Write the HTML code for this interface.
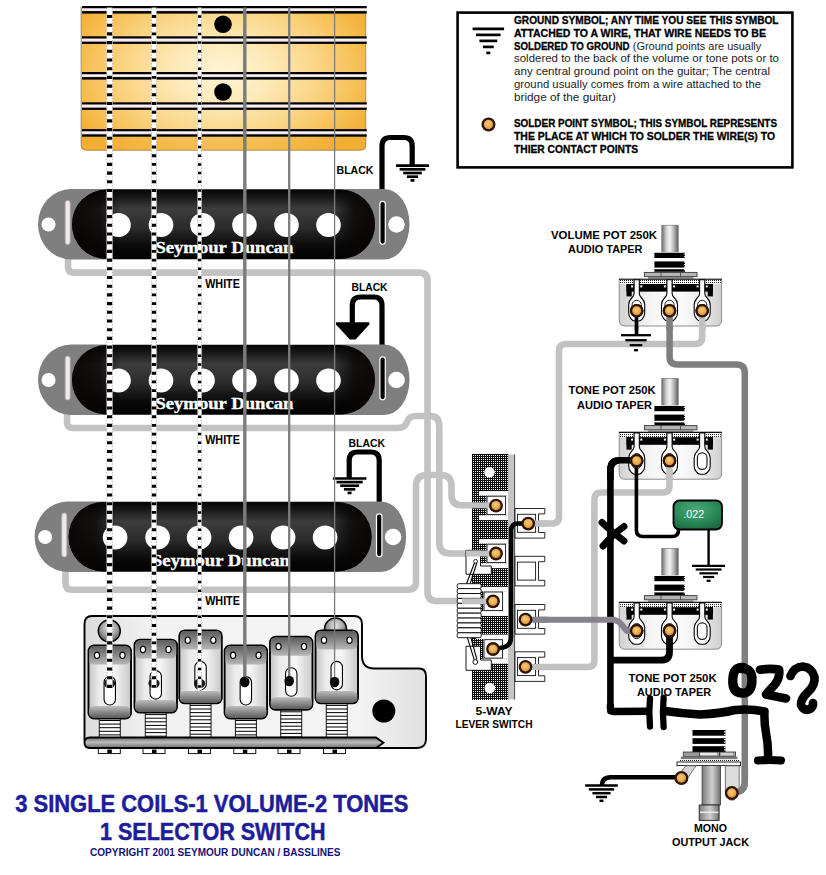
<!DOCTYPE html>
<html lang="en"><head><meta charset="utf-8"><title>3 Single Coils - 1 Volume - 2 Tones - 5-Way Switch Wiring Diagram</title>
<style>
html,body{margin:0;padding:0;background:#fff;}
body{width:826px;height:875px;overflow:hidden;font-family:"Liberation Sans",sans-serif;}
svg{display:block;}
</style></head><body>
<svg width="826" height="875" viewBox="0 0 826 875">
<defs>
<linearGradient id="gNeck" x1="0" y1="0" x2="1" y2="0">
 <stop offset="0" stop-color="#f2b23a"/><stop offset="0.12" stop-color="#f6c35a"/>
 <stop offset="0.35" stop-color="#fbe0a0"/><stop offset="0.52" stop-color="#fff0c8"/>
 <stop offset="0.72" stop-color="#fbd98c"/><stop offset="0.9" stop-color="#f5bd4e"/><stop offset="1" stop-color="#f0ae34"/>
</linearGradient>
<linearGradient id="gNeckV" x1="0" y1="0" x2="0" y2="1">
 <stop offset="0" stop-color="#f0a828" stop-opacity="0.25"/><stop offset="0.4" stop-color="#fff" stop-opacity="0"/>
 <stop offset="0.8" stop-color="#f0a828" stop-opacity="0.1"/><stop offset="1" stop-color="#e89c1c" stop-opacity="0.55"/>
</linearGradient>
<linearGradient id="gFret" x1="0" y1="0" x2="0" y2="1">
 <stop offset="0" stop-color="#000"/><stop offset="0.26" stop-color="#000"/><stop offset="0.3" stop-color="#a8a0a4"/><stop offset="0.4" stop-color="#f4eef0"/>
 <stop offset="0.5" stop-color="#fffafc"/><stop offset="0.6" stop-color="#e8e0e4"/><stop offset="0.69" stop-color="#989094"/><stop offset="0.73" stop-color="#000"/><stop offset="1" stop-color="#000"/>
</linearGradient>
<radialGradient id="gNeckR" gradientUnits="userSpaceOnUse" cx="0" cy="0" r="160" gradientTransform="translate(222,72) scale(1,0.66)">
 <stop offset="0" stop-color="#fff4d6"/><stop offset="0.3" stop-color="#fdeab8"/><stop offset="0.6" stop-color="#fad586"/>
 <stop offset="0.85" stop-color="#f6c055"/><stop offset="1" stop-color="#f3b139"/>
</radialGradient>
<linearGradient id="gCover" x1="0" y1="0" x2="0" y2="1">
 <stop offset="0" stop-color="#050505"/><stop offset="0.1" stop-color="#161616"/><stop offset="0.28" stop-color="#3d3d3d"/><stop offset="0.55" stop-color="#2b2b2b"/>
 <stop offset="0.8" stop-color="#0b0b0b"/><stop offset="1" stop-color="#000"/>
</linearGradient>
<linearGradient id="gCoverH" x1="0" y1="0" x2="1" y2="0">
 <stop offset="0" stop-color="#0a0404" stop-opacity="0.95"/><stop offset="0.09" stop-color="#0a0404" stop-opacity="0.75"/><stop offset="0.16" stop-color="#000" stop-opacity="0"/>
 <stop offset="0.86" stop-color="#000" stop-opacity="0"/><stop offset="0.93" stop-color="#0a0404" stop-opacity="0.8"/><stop offset="1" stop-color="#0a0404" stop-opacity="0.95"/>
</linearGradient>
<radialGradient id="gSolder" cx="0.45" cy="0.4" r="0.7">
 <stop offset="0" stop-color="#f6cd80"/><stop offset="0.6" stop-color="#eaa846"/><stop offset="1" stop-color="#c88226"/>
</radialGradient>
<linearGradient id="gShaft" x1="0" y1="0" x2="1" y2="0">
 <stop offset="0" stop-color="#6e6e6e"/><stop offset="0.3" stop-color="#d8d8d8"/><stop offset="0.5" stop-color="#f2f2f2"/>
 <stop offset="0.75" stop-color="#b0b0b0"/><stop offset="1" stop-color="#606060"/>
</linearGradient>
<linearGradient id="gSleeve" x1="0" y1="0" x2="1" y2="0">
 <stop offset="0" stop-color="#7a7a7a"/><stop offset="0.35" stop-color="#b4b4b4"/><stop offset="0.55" stop-color="#cfcfcf"/>
 <stop offset="0.8" stop-color="#9c9c9c"/><stop offset="1" stop-color="#6c6c6c"/>
</linearGradient>
<linearGradient id="gPotBody" x1="0" y1="0" x2="1" y2="0">
 <stop offset="0" stop-color="#d2d2d2"/><stop offset="0.3" stop-color="#f4f4f4"/><stop offset="0.55" stop-color="#ffffff"/>
 <stop offset="0.8" stop-color="#ececec"/><stop offset="1" stop-color="#cfcfcf"/>
</linearGradient>
<radialGradient id="gCap" cx="0.45" cy="0.3" r="0.85">
 <stop offset="0" stop-color="#4aa878"/><stop offset="0.45" stop-color="#2f8f5c"/><stop offset="1" stop-color="#16603a"/>
</radialGradient>
<linearGradient id="gSadTop" x1="0" y1="0" x2="0" y2="1">
 <stop offset="0" stop-color="#5c5c5c"/><stop offset="0.5" stop-color="#8a8a8a"/><stop offset="1" stop-color="#b8b8b8"/>
</linearGradient>
<linearGradient id="gSadBot" x1="0" y1="0" x2="0" y2="1">
 <stop offset="0" stop-color="#bdbdbd"/><stop offset="0.5" stop-color="#8c8c8c"/><stop offset="1" stop-color="#5a5a5a"/>
</linearGradient>
<linearGradient id="gSadMid" x1="0" y1="0" x2="1" y2="0">
 <stop offset="0" stop-color="#c4c4c4"/><stop offset="0.25" stop-color="#ececec"/><stop offset="0.6" stop-color="#f6f6f6"/><stop offset="1" stop-color="#c8c8c8"/>
</linearGradient>
<linearGradient id="gBar" x1="0" y1="0" x2="0" y2="1">
 <stop offset="0" stop-color="#6a6a6a"/><stop offset="0.45" stop-color="#bdbdbd"/><stop offset="1" stop-color="#6e6e6e"/>
</linearGradient>
<linearGradient id="gPlate" x1="0" y1="0" x2="1" y2="0">
 <stop offset="0" stop-color="#dcdcdc"/><stop offset="0.2" stop-color="#f2f2f2"/><stop offset="0.8" stop-color="#f4f4f4"/><stop offset="1" stop-color="#e0e0e0"/>
</linearGradient>
<radialGradient id="gScrew" cx="0.5" cy="0.35" r="0.7">
 <stop offset="0" stop-color="#e8e8e8"/><stop offset="0.55" stop-color="#9a9a9a"/><stop offset="1" stop-color="#4a4a4a"/>
</radialGradient>
<pattern id="pDots" width="2" height="2" patternUnits="userSpaceOnUse">
 <rect width="2" height="2" fill="#0c0c0c"/><rect x="1" y="1" width="1" height="1" fill="#f4f4f4"/>
</pattern>
<pattern id="pDotsL" width="2" height="2" patternUnits="userSpaceOnUse">
 <rect width="2" height="2" fill="#fff"/><rect x="0" y="0" width="1" height="1" fill="#222"/>
</pattern>
<filter id="soft" x="-5%" y="-5%" width="110%" height="110%"><feGaussianBlur stdDeviation="0.45"/></filter>
</defs>
<rect width="826" height="875" fill="#fff"/>

<g id="fretboard">
<path d="M81,7 H365.8 V144 Q365.8,150.3 359.5,150.3 H87.5 Q81,150.3 81,144 Z" fill="url(#gNeckR)"/>
<rect x="81" y="137" width="284.8" height="13.3" fill="#f2ab2c" opacity="0.45"/>
<path d="M81,7 V144 Q81,150.3 87.5,150.3 H359.5 Q365.8,150.3 365.8,144 V7" fill="none" stroke="#2a1c04" stroke-width="0.9" opacity="0.4"/>
<rect x="82" y="6.000000000000001" width="284.7" height="7.6" fill="url(#gFret)"/>
<rect x="82" y="36.300000000000004" width="284.7" height="7.6" fill="url(#gFret)"/>
<rect x="82" y="72.0" width="284.7" height="7.6" fill="url(#gFret)"/>
<rect x="82" y="102.3" width="284.7" height="7.6" fill="url(#gFret)"/>
<rect x="82" y="129.1" width="284.7" height="7.6" fill="url(#gFret)"/>
<circle cx="223" cy="24.2" r="8.8" fill="#000"/><circle cx="223" cy="92" r="8.8" fill="#000"/>
</g>
<g id="whitewires" fill="none" stroke="#c2c2c2" stroke-width="6.6" stroke-linecap="round" stroke-linejoin="round">
<path d="M68,250 V266.5 Q68,272.6 74,272.6 H419 Q427.5,272.6 427.5,280.6 V592 Q427.5,601 436,601 H488"/>
<path d="M67,405 V422 Q67,428 73,428 H398 Q405,428 407,422 Q409,416 416,416 H430 Q439.3,416 439.3,426 V543 Q439.3,553.5 450,553.5 H490"/>
<path d="M65.5,562 V583 Q65.5,589.7 72,589.7 H408 Q416,589.7 416,581.7 V486 Q416,475 427,475 H441 Q451.5,475 451.5,486 V495 Q451.5,505.3 462,505.3 H490"/>
<path d="M702.2,314 V337 Q702.2,344 695,344 H566 Q559,344 559,351 V516 Q559,523.5 552,523.5 H532"/>
<path d="M669.5,462 V486 Q669.5,492.5 663,492.5 H601 Q594.4,492.5 594.4,499.5 V660 Q594.4,667 588,667 H530"/>
</g>
<g id="greywires" fill="none" stroke="#7e7e7e" stroke-width="6.5" stroke-linecap="round" stroke-linejoin="round">
<path d="M669.6,314 V357 Q669.6,364.5 677.5,364.5 H736.5 Q744.8,364.5 744.8,373 V782 Q744.8,789.5 739,791.5 L733,793.5"/>
</g>
<g id="blackwires" fill="none" stroke="#000" stroke-width="5.2" stroke-linejoin="round">
<path d="M382,204 V146 Q382,137.5 390.5,137.5 H403.7 Q412.2,137.5 412.2,146 V165"/>
<path d="M382,360 V305.5 Q382,297 373.5,297 H360.8 Q352.3,297 352.3,305.5 V324"/>
<path d="M379.2,517 V460.5 Q379.2,452 370.7,452 H357.7 Q349.2,452 349.2,460.5 V478"/>
</g>
<g id="pickups">
<path d="M71,189.0 H384.5 A25,35.25 0 0 1 384.5,259.5 H71 A33,35.25 0 0 1 71,189.0 Z" fill="#7f7f7f"/><circle cx="48.5" cy="224.5" r="7" fill="#fff"/><circle cx="396.5" cy="224.5" r="8.3" fill="#fff"/><rect x="65.2" y="200.5" width="5" height="44" rx="2.5" fill="#f0e8ea" stroke="#b4aaae" stroke-width="0.9"/><rect x="72" y="189.5" width="303" height="69.5" rx="34.5" fill="url(#gCover)"/><rect x="72" y="189.5" width="303" height="69.5" rx="34.5" fill="url(#gCoverH)"/><ellipse cx="118.5" cy="225.0" rx="12.3" ry="12" fill="#fff"/><ellipse cx="161" cy="225.0" rx="12.3" ry="12" fill="#fff"/><ellipse cx="202.5" cy="225.0" rx="12.3" ry="12" fill="#fff"/><ellipse cx="244.5" cy="225.0" rx="12.3" ry="12" fill="#fff"/><ellipse cx="286.5" cy="225.0" rx="12.3" ry="12" fill="#fff"/><ellipse cx="328.5" cy="225.0" rx="12.3" ry="12" fill="#fff"/><rect x="379.9" y="201.3" width="5.4" height="43" rx="2.7" fill="#000" stroke="#fff" stroke-width="1.2"/><text x="155.4" y="253.3" font-family='"Liberation Serif", serif' font-size="17.5" font-weight="bold" fill="#fff" text-anchor="start" textLength="138" lengthAdjust="spacingAndGlyphs" stroke="#fff" stroke-width="0.35">Seymour Duncan</text>
<path d="M71,344.5 H384.5 A25,35.25 0 0 1 384.5,415 H71 A33,35.25 0 0 1 71,344.5 Z" fill="#7f7f7f"/><circle cx="48.5" cy="380" r="7" fill="#fff"/><circle cx="396.5" cy="380" r="8.3" fill="#fff"/><rect x="65.2" y="356" width="5" height="44" rx="2.5" fill="#f0e8ea" stroke="#b4aaae" stroke-width="0.9"/><rect x="72" y="345.0" width="303" height="69.5" rx="34.5" fill="url(#gCover)"/><rect x="72" y="345.0" width="303" height="69.5" rx="34.5" fill="url(#gCoverH)"/><ellipse cx="118.5" cy="380.5" rx="12.3" ry="12" fill="#fff"/><ellipse cx="161" cy="380.5" rx="12.3" ry="12" fill="#fff"/><ellipse cx="202.5" cy="380.5" rx="12.3" ry="12" fill="#fff"/><ellipse cx="244.5" cy="380.5" rx="12.3" ry="12" fill="#fff"/><ellipse cx="286.5" cy="380.5" rx="12.3" ry="12" fill="#fff"/><ellipse cx="328.5" cy="380.5" rx="12.3" ry="12" fill="#fff"/><rect x="379.9" y="356.8" width="5.4" height="43" rx="2.7" fill="#000" stroke="#fff" stroke-width="1.2"/><text x="155.4" y="408.8" font-family='"Liberation Serif", serif' font-size="17.5" font-weight="bold" fill="#fff" text-anchor="start" textLength="138" lengthAdjust="spacingAndGlyphs" stroke="#fff" stroke-width="0.35">Seymour Duncan</text>
<path d="M67.6,501.5 H381.1 A25,35.25 0 0 1 381.1,572 H67.6 A33,35.25 0 0 1 67.6,501.5 Z" fill="#7f7f7f"/><circle cx="45.1" cy="537" r="7" fill="#fff"/><circle cx="393.1" cy="537" r="8.3" fill="#fff"/><rect x="61.800000000000004" y="513" width="5" height="44" rx="2.5" fill="#f0e8ea" stroke="#b4aaae" stroke-width="0.9"/><rect x="68.6" y="502.0" width="303" height="69.5" rx="34.5" fill="url(#gCover)"/><rect x="68.6" y="502.0" width="303" height="69.5" rx="34.5" fill="url(#gCoverH)"/><ellipse cx="115.1" cy="537.5" rx="12.3" ry="12" fill="#fff"/><ellipse cx="157.6" cy="537.5" rx="12.3" ry="12" fill="#fff"/><ellipse cx="199.1" cy="537.5" rx="12.3" ry="12" fill="#fff"/><ellipse cx="241.1" cy="537.5" rx="12.3" ry="12" fill="#fff"/><ellipse cx="283.1" cy="537.5" rx="12.3" ry="12" fill="#fff"/><ellipse cx="325.1" cy="537.5" rx="12.3" ry="12" fill="#fff"/><rect x="376.5" y="513.8" width="5.4" height="43" rx="2.7" fill="#000" stroke="#fff" stroke-width="1.2"/><text x="152.0" y="565.8" font-family='"Liberation Serif", serif' font-size="17.5" font-weight="bold" fill="#fff" text-anchor="start" textLength="138" lengthAdjust="spacingAndGlyphs" stroke="#fff" stroke-width="0.35">Seymour Duncan</text>
</g>
<line x1="396.0" y1="165.6" x2="429.0" y2="165.6" stroke="#000" stroke-width="2.7"/><line x1="399.6" y1="169.3" x2="425.4" y2="169.3" stroke="#000" stroke-width="2.7"/><line x1="403.2" y1="173.0" x2="421.8" y2="173.0" stroke="#000" stroke-width="2.7"/><line x1="406.9" y1="176.7" x2="418.1" y2="176.7" stroke="#000" stroke-width="2.7"/><line x1="410.5" y1="180.4" x2="414.5" y2="180.4" stroke="#000" stroke-width="2.7"/>
<path d="M336,322.3 H369.3 V324.5 L355.6,339.5 H349.8 L336,324.5 Z" fill="#000"/>
<line x1="332.9" y1="478.5" x2="366.4" y2="478.5" stroke="#000" stroke-width="2.7"/><line x1="336.5" y1="482.1" x2="362.7" y2="482.1" stroke="#000" stroke-width="2.7"/><line x1="340.2" y1="485.7" x2="359.0" y2="485.7" stroke="#000" stroke-width="2.7"/><line x1="343.9" y1="489.3" x2="355.3" y2="489.3" stroke="#000" stroke-width="2.7"/><line x1="347.6" y1="492.9" x2="351.6" y2="492.9" stroke="#000" stroke-width="2.7"/>
<g id="bridge">
<path d="M92,616 H354 Q362,616 362,624 V656 Q362,668.5 374,668.5 H419 Q426,668.5 426,676 V739 Q426,748 417,748 H92 Q84.5,748 84.5,740 V624 Q84.5,616 92,616 Z" fill="url(#gPlate)" stroke="#000" stroke-width="1.9"/>
<circle cx="109.3" cy="631" r="11" fill="url(#gScrew)" stroke="#000" stroke-width="1.4"/>
<circle cx="335.5" cy="629" r="11" fill="url(#gScrew)" stroke="#000" stroke-width="1.4"/>
<circle cx="383.8" cy="711" r="11.5" fill="#000"/>
<rect x="99.25" y="716.5" width="21" height="22.5" fill="#fff" stroke="#000" stroke-width="0.9"/><line x1="99.25" y1="720.5" x2="120.25" y2="720.5" stroke="#000" stroke-width="1"/><line x1="99.25" y1="724.1" x2="120.25" y2="724.1" stroke="#000" stroke-width="1"/><line x1="99.25" y1="727.7" x2="120.25" y2="727.7" stroke="#000" stroke-width="1"/><line x1="99.25" y1="731.3" x2="120.25" y2="731.3" stroke="#000" stroke-width="1"/><line x1="99.25" y1="734.9" x2="120.25" y2="734.9" stroke="#000" stroke-width="1"/><rect x="88.5" y="645.5" width="42.5" height="73" rx="5.5" fill="url(#gSadMid)" stroke="#000" stroke-width="1.9"/><path d="M89.2,651.5 Q89.2,646.2 94.5,646.2 H125.0 Q130.3,646.2 130.3,651.5 V659.5 Q130.3,664.5 125.0,664.5 H94.5 Q89.2,664.5 89.2,659.5 Z" fill="url(#gSadTop)"/><path d="M89.2,710.5 Q89.2,706.0 94.5,706.0 H125.0 Q130.3,706.0 130.3,710.5 V713.5 Q130.3,717.8 125.0,717.8 H94.5 Q89.2,717.8 89.2,713.5 Z" fill="url(#gSadBot)"/><ellipse cx="97.0" cy="655.3" rx="2.6" ry="3.2" fill="#fff" stroke="#000" stroke-width="1.1"/><ellipse cx="122.5" cy="655.3" rx="2.6" ry="3.2" fill="#fff" stroke="#000" stroke-width="1.1"/><rect x="104.05" y="676.5" width="11.4" height="28.5" rx="5.7" fill="#fff" stroke="#000" stroke-width="1.1"/>
<rect x="145.25" y="710.6" width="21" height="28.399999999999977" fill="#fff" stroke="#000" stroke-width="0.9"/><line x1="145.25" y1="714.6" x2="166.25" y2="714.6" stroke="#000" stroke-width="1"/><line x1="145.25" y1="718.2" x2="166.25" y2="718.2" stroke="#000" stroke-width="1"/><line x1="145.25" y1="721.8" x2="166.25" y2="721.8" stroke="#000" stroke-width="1"/><line x1="145.25" y1="725.4" x2="166.25" y2="725.4" stroke="#000" stroke-width="1"/><line x1="145.25" y1="729.0" x2="166.25" y2="729.0" stroke="#000" stroke-width="1"/><line x1="145.25" y1="732.6" x2="166.25" y2="732.6" stroke="#000" stroke-width="1"/><line x1="145.25" y1="736.2" x2="166.25" y2="736.2" stroke="#000" stroke-width="1"/><rect x="134.5" y="639.6" width="42.5" height="73" rx="5.5" fill="url(#gSadMid)" stroke="#000" stroke-width="1.9"/><path d="M135.2,645.6 Q135.2,640.3000000000001 140.5,640.3000000000001 H171.0 Q176.3,640.3000000000001 176.3,645.6 V653.6 Q176.3,658.6 171.0,658.6 H140.5 Q135.2,658.6 135.2,653.6 Z" fill="url(#gSadTop)"/><path d="M135.2,704.6 Q135.2,700.1 140.5,700.1 H171.0 Q176.3,700.1 176.3,704.6 V707.6 Q176.3,711.9 171.0,711.9 H140.5 Q135.2,711.9 135.2,707.6 Z" fill="url(#gSadBot)"/><ellipse cx="143.0" cy="649.4" rx="2.6" ry="3.2" fill="#fff" stroke="#000" stroke-width="1.1"/><ellipse cx="168.5" cy="649.4" rx="2.6" ry="3.2" fill="#fff" stroke="#000" stroke-width="1.1"/><rect x="150.05" y="670.6" width="11.4" height="28.5" rx="5.7" fill="#fff" stroke="#000" stroke-width="1.1"/>
<rect x="190.05" y="701.4" width="21" height="37.60000000000002" fill="#fff" stroke="#000" stroke-width="0.9"/><line x1="190.05" y1="705.4" x2="211.05" y2="705.4" stroke="#000" stroke-width="1"/><line x1="190.05" y1="709.0" x2="211.05" y2="709.0" stroke="#000" stroke-width="1"/><line x1="190.05" y1="712.6" x2="211.05" y2="712.6" stroke="#000" stroke-width="1"/><line x1="190.05" y1="716.2" x2="211.05" y2="716.2" stroke="#000" stroke-width="1"/><line x1="190.05" y1="719.8" x2="211.05" y2="719.8" stroke="#000" stroke-width="1"/><line x1="190.05" y1="723.4" x2="211.05" y2="723.4" stroke="#000" stroke-width="1"/><line x1="190.05" y1="727.0" x2="211.05" y2="727.0" stroke="#000" stroke-width="1"/><line x1="190.05" y1="730.6" x2="211.05" y2="730.6" stroke="#000" stroke-width="1"/><line x1="190.05" y1="734.2" x2="211.05" y2="734.2" stroke="#000" stroke-width="1"/><line x1="190.05" y1="737.8" x2="211.05" y2="737.8" stroke="#000" stroke-width="1"/><rect x="179.3" y="630.4" width="42.5" height="73" rx="5.5" fill="url(#gSadMid)" stroke="#000" stroke-width="1.9"/><path d="M180.0,636.4 Q180.0,631.1 185.3,631.1 H215.8 Q221.10000000000002,631.1 221.10000000000002,636.4 V644.4 Q221.10000000000002,649.4 215.8,649.4 H185.3 Q180.0,649.4 180.0,644.4 Z" fill="url(#gSadTop)"/><path d="M180.0,695.4 Q180.0,690.9 185.3,690.9 H215.8 Q221.10000000000002,690.9 221.10000000000002,695.4 V698.4 Q221.10000000000002,702.6999999999999 215.8,702.6999999999999 H185.3 Q180.0,702.6999999999999 180.0,698.4 Z" fill="url(#gSadBot)"/><ellipse cx="187.8" cy="640.1999999999999" rx="2.6" ry="3.2" fill="#fff" stroke="#000" stroke-width="1.1"/><ellipse cx="213.3" cy="640.1999999999999" rx="2.6" ry="3.2" fill="#fff" stroke="#000" stroke-width="1.1"/><rect x="194.85000000000002" y="661.4" width="11.4" height="28.5" rx="5.7" fill="#fff" stroke="#000" stroke-width="1.1"/>
<rect x="235.35" y="716.5" width="21" height="22.5" fill="#fff" stroke="#000" stroke-width="0.9"/><line x1="235.35" y1="720.5" x2="256.35" y2="720.5" stroke="#000" stroke-width="1"/><line x1="235.35" y1="724.1" x2="256.35" y2="724.1" stroke="#000" stroke-width="1"/><line x1="235.35" y1="727.7" x2="256.35" y2="727.7" stroke="#000" stroke-width="1"/><line x1="235.35" y1="731.3" x2="256.35" y2="731.3" stroke="#000" stroke-width="1"/><line x1="235.35" y1="734.9" x2="256.35" y2="734.9" stroke="#000" stroke-width="1"/><rect x="224.6" y="645.5" width="42.5" height="73" rx="5.5" fill="url(#gSadMid)" stroke="#000" stroke-width="1.9"/><path d="M225.29999999999998,651.5 Q225.29999999999998,646.2 230.6,646.2 H261.1 Q266.40000000000003,646.2 266.40000000000003,651.5 V659.5 Q266.40000000000003,664.5 261.1,664.5 H230.6 Q225.29999999999998,664.5 225.29999999999998,659.5 Z" fill="url(#gSadTop)"/><path d="M225.29999999999998,710.5 Q225.29999999999998,706.0 230.6,706.0 H261.1 Q266.40000000000003,706.0 266.40000000000003,710.5 V713.5 Q266.40000000000003,717.8 261.1,717.8 H230.6 Q225.29999999999998,717.8 225.29999999999998,713.5 Z" fill="url(#gSadBot)"/><ellipse cx="233.1" cy="655.3" rx="2.6" ry="3.2" fill="#fff" stroke="#000" stroke-width="1.1"/><ellipse cx="258.6" cy="655.3" rx="2.6" ry="3.2" fill="#fff" stroke="#000" stroke-width="1.1"/><rect x="240.15" y="676.5" width="11.4" height="28.5" rx="5.7" fill="#fff" stroke="#000" stroke-width="1.1"/>
<rect x="280.75" y="707.8" width="21" height="31.200000000000045" fill="#fff" stroke="#000" stroke-width="0.9"/><line x1="280.75" y1="711.8" x2="301.75" y2="711.8" stroke="#000" stroke-width="1"/><line x1="280.75" y1="715.4" x2="301.75" y2="715.4" stroke="#000" stroke-width="1"/><line x1="280.75" y1="719.0" x2="301.75" y2="719.0" stroke="#000" stroke-width="1"/><line x1="280.75" y1="722.6" x2="301.75" y2="722.6" stroke="#000" stroke-width="1"/><line x1="280.75" y1="726.2" x2="301.75" y2="726.2" stroke="#000" stroke-width="1"/><line x1="280.75" y1="729.8" x2="301.75" y2="729.8" stroke="#000" stroke-width="1"/><line x1="280.75" y1="733.4" x2="301.75" y2="733.4" stroke="#000" stroke-width="1"/><line x1="280.75" y1="737.0" x2="301.75" y2="737.0" stroke="#000" stroke-width="1"/><rect x="270" y="636.8" width="42.5" height="73" rx="5.5" fill="url(#gSadMid)" stroke="#000" stroke-width="1.9"/><path d="M270.7,642.8 Q270.7,637.5 276,637.5 H306.5 Q311.8,637.5 311.8,642.8 V650.8 Q311.8,655.8 306.5,655.8 H276 Q270.7,655.8 270.7,650.8 Z" fill="url(#gSadTop)"/><path d="M270.7,701.8 Q270.7,697.3 276,697.3 H306.5 Q311.8,697.3 311.8,701.8 V704.8 Q311.8,709.0999999999999 306.5,709.0999999999999 H276 Q270.7,709.0999999999999 270.7,704.8 Z" fill="url(#gSadBot)"/><ellipse cx="278.5" cy="646.5999999999999" rx="2.6" ry="3.2" fill="#fff" stroke="#000" stroke-width="1.1"/><ellipse cx="304.0" cy="646.5999999999999" rx="2.6" ry="3.2" fill="#fff" stroke="#000" stroke-width="1.1"/><rect x="285.55" y="667.8" width="11.4" height="28.5" rx="5.7" fill="#fff" stroke="#000" stroke-width="1.1"/>
<rect x="326.25" y="701.4" width="21" height="37.60000000000002" fill="#fff" stroke="#000" stroke-width="0.9"/><line x1="326.25" y1="705.4" x2="347.25" y2="705.4" stroke="#000" stroke-width="1"/><line x1="326.25" y1="709.0" x2="347.25" y2="709.0" stroke="#000" stroke-width="1"/><line x1="326.25" y1="712.6" x2="347.25" y2="712.6" stroke="#000" stroke-width="1"/><line x1="326.25" y1="716.2" x2="347.25" y2="716.2" stroke="#000" stroke-width="1"/><line x1="326.25" y1="719.8" x2="347.25" y2="719.8" stroke="#000" stroke-width="1"/><line x1="326.25" y1="723.4" x2="347.25" y2="723.4" stroke="#000" stroke-width="1"/><line x1="326.25" y1="727.0" x2="347.25" y2="727.0" stroke="#000" stroke-width="1"/><line x1="326.25" y1="730.6" x2="347.25" y2="730.6" stroke="#000" stroke-width="1"/><line x1="326.25" y1="734.2" x2="347.25" y2="734.2" stroke="#000" stroke-width="1"/><line x1="326.25" y1="737.8" x2="347.25" y2="737.8" stroke="#000" stroke-width="1"/><rect x="315.5" y="630.4" width="42.5" height="73" rx="5.5" fill="url(#gSadMid)" stroke="#000" stroke-width="1.9"/><path d="M316.2,636.4 Q316.2,631.1 321.5,631.1 H352.0 Q357.3,631.1 357.3,636.4 V644.4 Q357.3,649.4 352.0,649.4 H321.5 Q316.2,649.4 316.2,644.4 Z" fill="url(#gSadTop)"/><path d="M316.2,695.4 Q316.2,690.9 321.5,690.9 H352.0 Q357.3,690.9 357.3,695.4 V698.4 Q357.3,702.6999999999999 352.0,702.6999999999999 H321.5 Q316.2,702.6999999999999 316.2,698.4 Z" fill="url(#gSadBot)"/><ellipse cx="324.0" cy="640.1999999999999" rx="2.6" ry="3.2" fill="#fff" stroke="#000" stroke-width="1.1"/><ellipse cx="349.5" cy="640.1999999999999" rx="2.6" ry="3.2" fill="#fff" stroke="#000" stroke-width="1.1"/><rect x="331.05" y="661.4" width="11.4" height="28.5" rx="5.7" fill="#fff" stroke="#000" stroke-width="1.1"/>
<path d="M90,737.5 H376 L383.5,742.7 L376,748 H90 Q84.5,748 84.5,742.7 Q84.5,737.5 90,737.5 Z" fill="url(#gBar)" stroke="#000" stroke-width="1.8"/>
<rect x="98.3" y="748.6" width="22" height="5" fill="#fff" stroke="#000" stroke-width="0.9"/><rect x="107.3" y="749.6" width="4.5" height="3.4" fill="#000"/>
<rect x="143" y="748.6" width="22" height="5" fill="#fff" stroke="#000" stroke-width="0.9"/><rect x="152" y="749.6" width="4.5" height="3.4" fill="#000"/>
<rect x="188.5" y="748.6" width="22" height="5" fill="#fff" stroke="#000" stroke-width="0.9"/><rect x="197.5" y="749.6" width="4.5" height="3.4" fill="#000"/>
<rect x="233.8" y="748.6" width="22" height="5" fill="#fff" stroke="#000" stroke-width="0.9"/><rect x="242.8" y="749.6" width="4.5" height="3.4" fill="#000"/>
<rect x="278" y="748.6" width="22" height="5" fill="#fff" stroke="#000" stroke-width="0.9"/><rect x="287" y="749.6" width="4.5" height="3.4" fill="#000"/>
<rect x="323.5" y="748.6" width="22" height="5" fill="#fff" stroke="#000" stroke-width="0.9"/><rect x="332.5" y="749.6" width="4.5" height="3.4" fill="#000"/>
</g>
<g id="strings">
<ellipse cx="109.6" cy="683.5" rx="5.6" ry="4.8" fill="#1a1a1a"/>
<rect x="106.6" y="7.6" width="6.0" height="682.4" fill="#fff"/>
<line x1="106.8" y1="8" x2="106.8" y2="690" stroke="#8a8a8a" stroke-width="0.8" stroke-dasharray="1.4 1.5" opacity="0.7"/>
<line x1="112.39999999999999" y1="8" x2="112.39999999999999" y2="690" stroke="#8a8a8a" stroke-width="0.8" stroke-dasharray="1.4 1.5" opacity="0.7"/>
<line x1="109.6" y1="14.95" x2="109.6" y2="690" stroke="#000" stroke-width="5.1" stroke-dasharray="3.1 5.60"/>
<ellipse cx="154.0" cy="683.5" rx="5.6" ry="4.8" fill="#1a1a1a"/>
<rect x="151.4" y="7.6" width="5.2" height="682.4" fill="#fff"/>
<line x1="151.6" y1="8" x2="151.6" y2="690" stroke="#8a8a8a" stroke-width="0.8" stroke-dasharray="1.4 1.5" opacity="0.7"/>
<line x1="156.4" y1="8" x2="156.4" y2="690" stroke="#8a8a8a" stroke-width="0.8" stroke-dasharray="1.4 1.5" opacity="0.7"/>
<line x1="154.0" y1="15.05" x2="154.0" y2="690" stroke="#000" stroke-width="4.3" stroke-dasharray="2.9 5.80"/>
<ellipse cx="199.6" cy="683.5" rx="5.6" ry="4.8" fill="#1a1a1a"/>
<rect x="197.5" y="7.6" width="4.2" height="682.4" fill="#fff"/>
<line x1="197.7" y1="8" x2="197.7" y2="690" stroke="#8a8a8a" stroke-width="0.8" stroke-dasharray="1.4 1.5" opacity="0.7"/>
<line x1="201.5" y1="8" x2="201.5" y2="690" stroke="#8a8a8a" stroke-width="0.8" stroke-dasharray="1.4 1.5" opacity="0.7"/>
<line x1="199.6" y1="15.25" x2="199.6" y2="690" stroke="#000" stroke-width="3.3" stroke-dasharray="2.5 6.20"/>
<line x1="244.8" y1="7.6" x2="244.8" y2="681" stroke="#7c7c7c" stroke-width="3.4"/>
<ellipse cx="244.8" cy="682" rx="4.8" ry="5.2" fill="#0a0a0a"/>
<line x1="289.2" y1="7.6" x2="289.2" y2="680" stroke="#7c7c7c" stroke-width="2.3"/>
<ellipse cx="289.2" cy="681" rx="4.8" ry="5.2" fill="#0a0a0a"/>
<line x1="334.6" y1="7.6" x2="334.6" y2="681" stroke="#7c7c7c" stroke-width="1.3"/>
<ellipse cx="334.6" cy="682" rx="4.8" ry="5.2" fill="#0a0a0a"/>
</g>
<g id="labels">
<text x="336.5" y="174" font-family='"Liberation Sans", sans-serif' font-size="11.5" font-weight="bold" fill="#000" text-anchor="start" textLength="37" lengthAdjust="spacingAndGlyphs">BLACK</text>
<text x="351.5" y="291" font-family='"Liberation Sans", sans-serif' font-size="11.5" font-weight="bold" fill="#000" text-anchor="start" textLength="36" lengthAdjust="spacingAndGlyphs">BLACK</text>
<text x="348.5" y="446.5" font-family='"Liberation Sans", sans-serif' font-size="11.5" font-weight="bold" fill="#000" text-anchor="start" textLength="36.5" lengthAdjust="spacingAndGlyphs">BLACK</text>
<text x="205.2" y="287.9" font-family='"Liberation Sans", sans-serif' font-size="12" font-weight="bold" fill="#000" text-anchor="start" textLength="34.7" lengthAdjust="spacingAndGlyphs">WHITE</text>
<text x="205.2" y="444" font-family='"Liberation Sans", sans-serif' font-size="12" font-weight="bold" fill="#000" text-anchor="start" textLength="34.7" lengthAdjust="spacingAndGlyphs">WHITE</text>
<text x="205.2" y="605" font-family='"Liberation Sans", sans-serif' font-size="12" font-weight="bold" fill="#000" text-anchor="start" textLength="34.7" lengthAdjust="spacingAndGlyphs">WHITE</text>
</g>
<g id="legend">
<rect x="457.6" y="12.6" width="334.8" height="154.8" fill="#fff" stroke="#000" stroke-width="2.6"/>
<line x1="472.6" y1="28.9" x2="504.1" y2="28.9" stroke="#000" stroke-width="2.7"/><line x1="476.0" y1="34.9" x2="500.6" y2="34.9" stroke="#000" stroke-width="2.7"/><line x1="479.4" y1="40.9" x2="497.2" y2="40.9" stroke="#000" stroke-width="2.7"/><line x1="482.9" y1="46.9" x2="493.7" y2="46.9" stroke="#000" stroke-width="2.7"/><line x1="486.3" y1="52.9" x2="490.3" y2="52.9" stroke="#000" stroke-width="2.7"/>
<g><circle cx="488.5" cy="124.5" r="7" fill="#2c1306"/><circle cx="488.5" cy="124.5" r="4.7" fill="url(#gSolder)"/></g>
<text x="514" y="24.2" font-family='"Liberation Sans", sans-serif' font-size="11" font-weight="bold" fill="#000" text-anchor="start" textLength="264.5" lengthAdjust="spacingAndGlyphs" stroke="#000" stroke-width="0.3">GROUND SYMBOL; ANY TIME YOU SEE THIS SYMBOL</text>
<text x="514" y="37.0" font-family='"Liberation Sans", sans-serif' font-size="11" font-weight="bold" fill="#000" text-anchor="start" textLength="252" lengthAdjust="spacingAndGlyphs" stroke="#000" stroke-width="0.3">ATTACHED TO A WIRE, THAT WIRE NEEDS TO BE</text>
<text x="514" y="49.7" font-family='"Liberation Sans", sans-serif' font-size="11" font-weight="bold" fill="#000" text-anchor="start" textLength="115.5" lengthAdjust="spacingAndGlyphs" stroke="#000" stroke-width="0.3">SOLDERED TO GROUND</text>
<text x="632.8" y="49.7" font-family='"Liberation Sans", sans-serif' font-size="11.4" font-weight="normal" fill="#1c1c1c" text-anchor="start" textLength="128.5" lengthAdjust="spacingAndGlyphs">(Ground points are usually</text>
<text x="514" y="62.4" font-family='"Liberation Sans", sans-serif' font-size="11.4" font-weight="normal" fill="#1c1c1c" text-anchor="start" textLength="265" lengthAdjust="spacingAndGlyphs">soldered to the back of the volume or tone pots or to</text>
<text x="514" y="75.1" font-family='"Liberation Sans", sans-serif' font-size="11.4" font-weight="normal" fill="#1c1c1c" text-anchor="start" textLength="256" lengthAdjust="spacingAndGlyphs">any central ground point on the guitar; The central</text>
<text x="514" y="87.8" font-family='"Liberation Sans", sans-serif' font-size="11.4" font-weight="normal" fill="#1c1c1c" text-anchor="start" textLength="247" lengthAdjust="spacingAndGlyphs">ground usually comes from a wire attached to the</text>
<text x="514" y="100.5" font-family='"Liberation Sans", sans-serif' font-size="11.4" font-weight="normal" fill="#1c1c1c" text-anchor="start" textLength="102" lengthAdjust="spacingAndGlyphs">bridge of the guitar)</text>
<text x="514" y="127.2" font-family='"Liberation Sans", sans-serif' font-size="11" font-weight="bold" fill="#000" text-anchor="start" textLength="263" lengthAdjust="spacingAndGlyphs" stroke="#000" stroke-width="0.3">SOLDER POINT SYMBOL; THIS SYMBOL REPRESENTS</text>
<text x="514" y="139.9" font-family='"Liberation Sans", sans-serif' font-size="11" font-weight="bold" fill="#000" text-anchor="start" textLength="261" lengthAdjust="spacingAndGlyphs" stroke="#000" stroke-width="0.3">THE PLACE AT WHICH TO SOLDER THE WIRE(S) TO</text>
<text x="514" y="152.6" font-family='"Liberation Sans", sans-serif' font-size="11" font-weight="bold" fill="#000" text-anchor="start" textLength="124" lengthAdjust="spacingAndGlyphs" stroke="#000" stroke-width="0.3">THIER CONTACT POINTS</text>
</g>
<g id="pots">
<g fill="none" stroke="#000" stroke-linejoin="round" stroke-linecap="round">
<path d="M636.5,316 V334" stroke-width="3.6"/>
<path d="M636,460.2 H620 Q610.4,460.2 610.4,470 V711" stroke-width="6.6"/>
<path d="M636.4,462 V530 Q636.4,536.5 643,536.5 H672 Q678.5,536.5 678.5,530" stroke-width="3.6"/>
<path d="M708.6,529 V565" stroke-width="2.4"/>
</g>
<line x1="621.0" y1="335.2" x2="651.0" y2="335.2" stroke="#000" stroke-width="2.3"/><line x1="625.3" y1="340.2" x2="646.7" y2="340.2" stroke="#000" stroke-width="2.3"/><line x1="629.7" y1="345.2" x2="642.3" y2="345.2" stroke="#000" stroke-width="2.3"/><line x1="634.0" y1="350.2" x2="638.0" y2="350.2" stroke="#000" stroke-width="2.3"/>
<line x1="692.1" y1="565.8" x2="725.1" y2="565.8" stroke="#000" stroke-width="2.2"/><line x1="695.7" y1="569.5" x2="721.5" y2="569.5" stroke="#000" stroke-width="2.2"/><line x1="699.4" y1="573.3" x2="717.9" y2="573.3" stroke="#000" stroke-width="2.2"/><line x1="703.0" y1="577.0" x2="714.2" y2="577.0" stroke="#000" stroke-width="2.2"/><line x1="706.6" y1="580.8" x2="710.6" y2="580.8" stroke="#000" stroke-width="2.2"/>
<rect x="661.8" y="225.2" width="16.4" height="27.2" fill="url(#gShaft)" stroke="#666" stroke-width="0.6"/><rect x="654.4" y="252.2" width="30.6" height="20" fill="#fff"/><rect x="654.4" y="252.79999999999998" width="30.6" height="5.2" fill="#000"/><rect x="654.4" y="261.4" width="30.6" height="6.2" fill="#000"/><rect x="654.4" y="269.2" width="30.6" height="2.6" fill="#000"/><rect x="683.8" y="253.6" width="1.8" height="1.1" fill="#fff"/><rect x="683.8" y="256.2" width="1.8" height="1.1" fill="#fff"/><rect x="683.8" y="258.8" width="1.8" height="1.1" fill="#fff"/><rect x="683.8" y="261.4" width="1.8" height="1.1" fill="#fff"/><rect x="683.8" y="264.0" width="1.8" height="1.1" fill="#fff"/><rect x="683.8" y="266.6" width="1.8" height="1.1" fill="#fff"/><rect x="683.8" y="269.2" width="1.8" height="1.1" fill="#fff"/><rect x="644.4" y="272.4" width="52.6" height="4.2" fill="#b6b6b6" stroke="#3a3a3a" stroke-width="0.9"/><line x1="661" y1="272.4" x2="661" y2="276.59999999999997" stroke="#3a3a3a" stroke-width="0.8"/><line x1="680.5" y1="272.4" x2="680.5" y2="276.59999999999997" stroke="#3a3a3a" stroke-width="0.8"/><rect x="648" y="277.0" width="45.5" height="2.2" fill="#8e8e8e"/><path d="M619.2,279.2 H721.6 V320.0 Q721.6,326.0 715.6,326.0 H625.2 Q619.2,326.0 619.2,320.0 Z" fill="url(#gPotBody)" stroke="#8c8c8c" stroke-width="1"/><rect x="619.7" y="279.59999999999997" width="101.4" height="4.4" fill="url(#pDotsL)"/><line x1="618.9000000000001" y1="279.2" x2="721.9" y2="279.2" stroke="#111" stroke-width="1.1"/><rect x="626.5" y="284.0" width="86.4" height="7.6" fill="#000"/><rect x="626.5" y="284.0" width="5.2" height="12.4" fill="#000"/><rect x="707.7" y="284.0" width="5.2" height="12.4" fill="#000"/><path d="M634.1,279.8 V293.5 Q634.1,295.5 631.7,298.0 Q628.7,301.0 628.7,304.5 V313.0 Q628.7,316.5 631.2,319.0 Q632.7,321.0 634.7,321.0 H638.7 Q640.7,321.0 642.2,319.0 Q644.7,316.5 644.7,313.0 V304.5 Q644.7,301.0 641.7,298.0 Q639.3000000000001,295.5 639.3000000000001,293.5 V279.8 Z" fill="#fff" stroke="#000" stroke-width="1.1"/><rect x="631.1" y="285.4" width="2" height="2" fill="#fff"/><rect x="640.3000000000001" y="285.4" width="2" height="2" fill="#fff"/><rect x="632.1" y="300.3" width="9.2" height="15.2" rx="4.6" fill="#fff" stroke="#222" stroke-width="1"/><g><circle cx="636.7" cy="310.8" r="6.8" fill="#2c1306"/><circle cx="636.7" cy="310.8" r="4.5" fill="url(#gSolder)"/></g><path d="M666.9,279.8 V293.5 Q666.9,295.5 664.5,298.0 Q661.5,301.0 661.5,304.5 V313.0 Q661.5,316.5 664.0,319.0 Q665.5,321.0 667.5,321.0 H671.5 Q673.5,321.0 675.0,319.0 Q677.5,316.5 677.5,313.0 V304.5 Q677.5,301.0 674.5,298.0 Q672.1,295.5 672.1,293.5 V279.8 Z" fill="#fff" stroke="#000" stroke-width="1.1"/><rect x="663.9" y="285.4" width="2" height="2" fill="#fff"/><rect x="673.1" y="285.4" width="2" height="2" fill="#fff"/><rect x="664.9" y="300.3" width="9.2" height="15.2" rx="4.6" fill="#fff" stroke="#222" stroke-width="1"/><g><circle cx="669.5" cy="310.8" r="6.8" fill="#2c1306"/><circle cx="669.5" cy="310.8" r="4.5" fill="url(#gSolder)"/></g><path d="M699.6,279.8 V293.5 Q699.6,295.5 697.2,298.0 Q694.2,301.0 694.2,304.5 V313.0 Q694.2,316.5 696.7,319.0 Q698.2,321.0 700.2,321.0 H704.2 Q706.2,321.0 707.7,319.0 Q710.2,316.5 710.2,313.0 V304.5 Q710.2,301.0 707.2,298.0 Q704.8000000000001,295.5 704.8000000000001,293.5 V279.8 Z" fill="#fff" stroke="#000" stroke-width="1.1"/><rect x="696.6" y="285.4" width="2" height="2" fill="#fff"/><rect x="705.8000000000001" y="285.4" width="2" height="2" fill="#fff"/><rect x="697.6" y="300.3" width="9.2" height="15.2" rx="4.6" fill="#fff" stroke="#222" stroke-width="1"/><g><circle cx="702.2" cy="310.8" r="6.8" fill="#2c1306"/><circle cx="702.2" cy="310.8" r="4.5" fill="url(#gSolder)"/></g>
<rect x="661.8" y="378.4" width="16.4" height="27.2" fill="url(#gShaft)" stroke="#666" stroke-width="0.6"/><rect x="654.4" y="405.4" width="30.6" height="20" fill="#fff"/><rect x="654.4" y="406.0" width="30.6" height="5.2" fill="#000"/><rect x="654.4" y="414.59999999999997" width="30.6" height="6.2" fill="#000"/><rect x="654.4" y="422.4" width="30.6" height="2.6" fill="#000"/><rect x="683.8" y="406.8" width="1.8" height="1.1" fill="#fff"/><rect x="683.8" y="409.4" width="1.8" height="1.1" fill="#fff"/><rect x="683.8" y="412.0" width="1.8" height="1.1" fill="#fff"/><rect x="683.8" y="414.6" width="1.8" height="1.1" fill="#fff"/><rect x="683.8" y="417.2" width="1.8" height="1.1" fill="#fff"/><rect x="683.8" y="419.8" width="1.8" height="1.1" fill="#fff"/><rect x="683.8" y="422.4" width="1.8" height="1.1" fill="#fff"/><rect x="644.4" y="425.59999999999997" width="52.6" height="4.2" fill="#b6b6b6" stroke="#3a3a3a" stroke-width="0.9"/><line x1="661" y1="425.59999999999997" x2="661" y2="429.79999999999995" stroke="#3a3a3a" stroke-width="0.8"/><line x1="680.5" y1="425.59999999999997" x2="680.5" y2="429.79999999999995" stroke="#3a3a3a" stroke-width="0.8"/><rect x="648" y="430.2" width="45.5" height="2.2" fill="#8e8e8e"/><path d="M619.2,432.4 H721.6 V473.2 Q721.6,479.2 715.6,479.2 H625.2 Q619.2,479.2 619.2,473.2 Z" fill="url(#gPotBody)" stroke="#8c8c8c" stroke-width="1"/><rect x="619.7" y="432.79999999999995" width="101.4" height="4.4" fill="url(#pDotsL)"/><line x1="618.9000000000001" y1="432.4" x2="721.9" y2="432.4" stroke="#111" stroke-width="1.1"/><rect x="626.5" y="437.2" width="86.4" height="7.6" fill="#000"/><rect x="626.5" y="437.2" width="5.2" height="12.4" fill="#000"/><rect x="707.7" y="437.2" width="5.2" height="12.4" fill="#000"/><path d="M634.1,433.0 V446.7 Q634.1,448.7 631.7,451.2 Q628.7,454.2 628.7,457.7 V466.2 Q628.7,469.7 631.2,472.2 Q632.7,474.2 634.7,474.2 H638.7 Q640.7,474.2 642.2,472.2 Q644.7,469.7 644.7,466.2 V457.7 Q644.7,454.2 641.7,451.2 Q639.3000000000001,448.7 639.3000000000001,446.7 V433.0 Z" fill="#fff" stroke="#000" stroke-width="1.1"/><rect x="631.1" y="438.59999999999997" width="2" height="2" fill="#fff"/><rect x="640.3000000000001" y="438.59999999999997" width="2" height="2" fill="#fff"/><rect x="632.1" y="453.5" width="9.2" height="15.2" rx="4.6" fill="#fff" stroke="#222" stroke-width="1"/><g><circle cx="636.7" cy="460.7" r="6.8" fill="#2c1306"/><circle cx="636.7" cy="460.7" r="4.5" fill="url(#gSolder)"/></g><path d="M666.9,433.0 V446.7 Q666.9,448.7 664.5,451.2 Q661.5,454.2 661.5,457.7 V466.2 Q661.5,469.7 664.0,472.2 Q665.5,474.2 667.5,474.2 H671.5 Q673.5,474.2 675.0,472.2 Q677.5,469.7 677.5,466.2 V457.7 Q677.5,454.2 674.5,451.2 Q672.1,448.7 672.1,446.7 V433.0 Z" fill="#fff" stroke="#000" stroke-width="1.1"/><rect x="663.9" y="438.59999999999997" width="2" height="2" fill="#fff"/><rect x="673.1" y="438.59999999999997" width="2" height="2" fill="#fff"/><rect x="664.9" y="453.5" width="9.2" height="15.2" rx="4.6" fill="#fff" stroke="#222" stroke-width="1"/><g><circle cx="669.5" cy="460.7" r="6.8" fill="#2c1306"/><circle cx="669.5" cy="460.7" r="4.5" fill="url(#gSolder)"/></g><path d="M699.6,433.0 V446.7 Q699.6,448.7 697.2,451.2 Q694.2,454.2 694.2,457.7 V466.2 Q694.2,469.7 696.7,472.2 Q698.2,474.2 700.2,474.2 H704.2 Q706.2,474.2 707.7,472.2 Q710.2,469.7 710.2,466.2 V457.7 Q710.2,454.2 707.2,451.2 Q704.8000000000001,448.7 704.8000000000001,446.7 V433.0 Z" fill="#fff" stroke="#000" stroke-width="1.1"/><rect x="696.6" y="438.59999999999997" width="2" height="2" fill="#fff"/><rect x="705.8000000000001" y="438.59999999999997" width="2" height="2" fill="#fff"/><rect x="697.4000000000001" y="452.9" width="9.6" height="16.4" rx="4.6" fill="#fff" stroke="#222" stroke-width="1.2"/>
<rect x="661.8" y="548.4" width="16.4" height="27.2" fill="url(#gShaft)" stroke="#666" stroke-width="0.6"/><rect x="654.4" y="575.4" width="30.6" height="20" fill="#fff"/><rect x="654.4" y="576.0" width="30.6" height="5.2" fill="#000"/><rect x="654.4" y="584.6" width="30.6" height="6.2" fill="#000"/><rect x="654.4" y="592.4" width="30.6" height="2.6" fill="#000"/><rect x="683.8" y="576.8" width="1.8" height="1.1" fill="#fff"/><rect x="683.8" y="579.4" width="1.8" height="1.1" fill="#fff"/><rect x="683.8" y="582.0" width="1.8" height="1.1" fill="#fff"/><rect x="683.8" y="584.6" width="1.8" height="1.1" fill="#fff"/><rect x="683.8" y="587.2" width="1.8" height="1.1" fill="#fff"/><rect x="683.8" y="589.8" width="1.8" height="1.1" fill="#fff"/><rect x="683.8" y="592.4" width="1.8" height="1.1" fill="#fff"/><rect x="644.4" y="595.6" width="52.6" height="4.2" fill="#b6b6b6" stroke="#3a3a3a" stroke-width="0.9"/><line x1="661" y1="595.6" x2="661" y2="599.8000000000001" stroke="#3a3a3a" stroke-width="0.8"/><line x1="680.5" y1="595.6" x2="680.5" y2="599.8000000000001" stroke="#3a3a3a" stroke-width="0.8"/><rect x="648" y="600.2" width="45.5" height="2.2" fill="#8e8e8e"/><path d="M619.2,602.4 H721.6 V643.1999999999999 Q721.6,649.1999999999999 715.6,649.1999999999999 H625.2 Q619.2,649.1999999999999 619.2,643.1999999999999 Z" fill="url(#gPotBody)" stroke="#8c8c8c" stroke-width="1"/><rect x="619.7" y="602.8" width="101.4" height="4.4" fill="url(#pDotsL)"/><line x1="618.9000000000001" y1="602.4" x2="721.9" y2="602.4" stroke="#111" stroke-width="1.1"/><rect x="626.5" y="607.1999999999999" width="86.4" height="7.6" fill="#000"/><rect x="626.5" y="607.1999999999999" width="5.2" height="12.4" fill="#000"/><rect x="707.7" y="607.1999999999999" width="5.2" height="12.4" fill="#000"/><path d="M634.1,603.0 V616.6999999999999 Q634.1,618.6999999999999 631.7,621.1999999999999 Q628.7,624.1999999999999 628.7,627.6999999999999 V636.1999999999999 Q628.7,639.6999999999999 631.2,642.1999999999999 Q632.7,644.1999999999999 634.7,644.1999999999999 H638.7 Q640.7,644.1999999999999 642.2,642.1999999999999 Q644.7,639.6999999999999 644.7,636.1999999999999 V627.6999999999999 Q644.7,624.1999999999999 641.7,621.1999999999999 Q639.3000000000001,618.6999999999999 639.3000000000001,616.6999999999999 V603.0 Z" fill="#fff" stroke="#000" stroke-width="1.1"/><rect x="631.1" y="608.6" width="2" height="2" fill="#fff"/><rect x="640.3000000000001" y="608.6" width="2" height="2" fill="#fff"/><rect x="632.1" y="623.4999999999999" width="9.2" height="15.2" rx="4.6" fill="#fff" stroke="#222" stroke-width="1"/><g><circle cx="636.7" cy="630.6999999999999" r="6.8" fill="#2c1306"/><circle cx="636.7" cy="630.6999999999999" r="4.5" fill="url(#gSolder)"/></g><path d="M666.9,603.0 V616.6999999999999 Q666.9,618.6999999999999 664.5,621.1999999999999 Q661.5,624.1999999999999 661.5,627.6999999999999 V636.1999999999999 Q661.5,639.6999999999999 664.0,642.1999999999999 Q665.5,644.1999999999999 667.5,644.1999999999999 H671.5 Q673.5,644.1999999999999 675.0,642.1999999999999 Q677.5,639.6999999999999 677.5,636.1999999999999 V627.6999999999999 Q677.5,624.1999999999999 674.5,621.1999999999999 Q672.1,618.6999999999999 672.1,616.6999999999999 V603.0 Z" fill="#fff" stroke="#000" stroke-width="1.1"/><rect x="663.9" y="608.6" width="2" height="2" fill="#fff"/><rect x="673.1" y="608.6" width="2" height="2" fill="#fff"/><rect x="664.9" y="623.4999999999999" width="9.2" height="15.2" rx="4.6" fill="#fff" stroke="#222" stroke-width="1"/><g><circle cx="669.5" cy="630.6999999999999" r="6.8" fill="#2c1306"/><circle cx="669.5" cy="630.6999999999999" r="4.5" fill="url(#gSolder)"/></g><path d="M699.6,603.0 V616.6999999999999 Q699.6,618.6999999999999 697.2,621.1999999999999 Q694.2,624.1999999999999 694.2,627.6999999999999 V636.1999999999999 Q694.2,639.6999999999999 696.7,642.1999999999999 Q698.2,644.1999999999999 700.2,644.1999999999999 H704.2 Q706.2,644.1999999999999 707.7,642.1999999999999 Q710.2,639.6999999999999 710.2,636.1999999999999 V627.6999999999999 Q710.2,624.1999999999999 707.2,621.1999999999999 Q704.8000000000001,618.6999999999999 704.8000000000001,616.6999999999999 V603.0 Z" fill="#fff" stroke="#000" stroke-width="1.1"/><rect x="696.6" y="608.6" width="2" height="2" fill="#fff"/><rect x="705.8000000000001" y="608.6" width="2" height="2" fill="#fff"/><rect x="697.4000000000001" y="622.9" width="9.6" height="16.4" rx="4.6" fill="#fff" stroke="#222" stroke-width="1.2"/>
<path d="M528,619.7 H612 Q618,620 621,624 L627,631 H634" fill="none" stroke="#86828c" stroke-width="6" stroke-linejoin="round"/>
<path d="M669.5,632 V652 Q669.5,660.2 661,660.2 H610" fill="none" stroke="#000" stroke-width="6.8" stroke-linejoin="round"/>
<path d="M636,460.2 H620 Q610.4,460.2 610.4,470 V480" fill="none" stroke="#000" stroke-width="6.6"/>
<path d="M636.4,462 V480" fill="none" stroke="#000" stroke-width="3.6"/>
<path d="M669.5,462 V480" fill="none" stroke="#c2c2c2" stroke-width="6.6"/>
<path d="M669.6,314 V330" fill="none" stroke="#7e7e7e" stroke-width="6.5"/>
<path d="M702.2,314 V330" fill="none" stroke="#c2c2c2" stroke-width="6.6"/>
<path d="M636.5,316 V330" fill="none" stroke="#000" stroke-width="3.6"/>
<g><circle cx="636.7" cy="310.8" r="6.8" fill="#2c1306"/><circle cx="636.7" cy="310.8" r="4.5" fill="url(#gSolder)"/></g>
<g><circle cx="669.5" cy="310.8" r="6.8" fill="#2c1306"/><circle cx="669.5" cy="310.8" r="4.5" fill="url(#gSolder)"/></g>
<g><circle cx="702.2" cy="310.8" r="6.8" fill="#2c1306"/><circle cx="702.2" cy="310.8" r="4.5" fill="url(#gSolder)"/></g>
<g><circle cx="636.7" cy="460.7" r="6.8" fill="#2c1306"/><circle cx="636.7" cy="460.7" r="4.5" fill="url(#gSolder)"/></g>
<g><circle cx="669.5" cy="460.7" r="6.8" fill="#2c1306"/><circle cx="669.5" cy="460.7" r="4.5" fill="url(#gSolder)"/></g>
<g><circle cx="636.7" cy="630.7" r="6.8" fill="#2c1306"/><circle cx="636.7" cy="630.7" r="4.5" fill="url(#gSolder)"/></g>
<g><circle cx="669.5" cy="630.7" r="6.8" fill="#2c1306"/><circle cx="669.5" cy="630.7" r="4.5" fill="url(#gSolder)"/></g>
<rect x="673.5" y="500.5" width="48.5" height="29" rx="6" fill="url(#gCap)" stroke="#000" stroke-width="1.8"/>
<text x="693.8" y="517.6" font-family='"Liberation Sans", sans-serif' font-size="10.5" font-weight="normal" fill="#f2fbf5" text-anchor="middle" textLength="21" lengthAdjust="spacingAndGlyphs">.022</text>
<text x="551" y="238.5" font-family='"Liberation Sans", sans-serif' font-size="11.5" font-weight="bold" fill="#000" text-anchor="start" textLength="106" lengthAdjust="spacingAndGlyphs">VOLUME POT 250K</text>
<text x="568" y="252.5" font-family='"Liberation Sans", sans-serif' font-size="11.5" font-weight="bold" fill="#000" text-anchor="start" textLength="74.5" lengthAdjust="spacingAndGlyphs">AUDIO TAPER</text>
<text x="568.5" y="393.5" font-family='"Liberation Sans", sans-serif' font-size="11.5" font-weight="bold" fill="#000" text-anchor="start" textLength="87" lengthAdjust="spacingAndGlyphs">TONE POT 250K</text>
<text x="577" y="408.5" font-family='"Liberation Sans", sans-serif' font-size="11.5" font-weight="bold" fill="#000" text-anchor="start" textLength="75" lengthAdjust="spacingAndGlyphs">AUDIO TAPER</text>
<text x="628.6" y="681.5" font-family='"Liberation Sans", sans-serif' font-size="11.5" font-weight="bold" fill="#000" text-anchor="start" textLength="88" lengthAdjust="spacingAndGlyphs">TONE POT 250K</text>
<text x="637" y="696" font-family='"Liberation Sans", sans-serif' font-size="11.5" font-weight="bold" fill="#000" text-anchor="start" textLength="74" lengthAdjust="spacingAndGlyphs">AUDIO TAPER</text>
</g>
<g id="switch">
<rect x="472" y="454" width="36.5" height="246" fill="url(#pDots)"/>
<rect x="508.3" y="454.5" width="6.2" height="245" fill="#c4c4c4"/><line x1="514.6" y1="454.5" x2="514.6" y2="699.5" stroke="#222" stroke-width="0.8"/>
<circle cx="489.5" cy="472.3" r="5.3" fill="#fff"/><circle cx="489.8" cy="688" r="5.3" fill="#fff"/>
<rect x="479" y="491.1" width="29.30000000000001" height="4.4" fill="#fff"/>
<rect x="479" y="515.3" width="29.30000000000001" height="4.8" fill="#fff"/>
<rect x="486.4" y="495.5" width="21.900000000000034" height="19.8" fill="#fff"/>
<rect x="487" y="496.2" width="18.6" height="18.4" fill="#fff" stroke="#111" stroke-width="0.9"/>
<rect x="479" y="539.1" width="29.30000000000001" height="4.4" fill="#fff"/>
<rect x="479" y="563.3" width="29.30000000000001" height="4.8" fill="#fff"/>
<rect x="486.4" y="543.5" width="21.900000000000034" height="19.8" fill="#fff"/>
<rect x="487" y="544.2" width="18.6" height="18.4" fill="#fff" stroke="#111" stroke-width="0.9"/>
<rect x="476" y="586.9" width="32.30000000000001" height="4.4" fill="#fff"/>
<rect x="476" y="611.0999999999999" width="32.30000000000001" height="4.8" fill="#fff"/>
<rect x="483.4" y="591.3" width="24.900000000000034" height="19.8" fill="#fff"/>
<rect x="484" y="592.0" width="18.6" height="18.4" fill="#fff" stroke="#111" stroke-width="0.9"/>
<rect x="476" y="634.6" width="32.30000000000001" height="4.4" fill="#fff"/>
<rect x="476" y="658.8" width="32.30000000000001" height="4.8" fill="#fff"/>
<rect x="483.4" y="639" width="24.900000000000034" height="19.8" fill="#fff"/>
<rect x="484" y="639.7" width="18.6" height="18.4" fill="#fff" stroke="#111" stroke-width="0.9"/>
<path d="M515,508.5 H544.8 V513.9 H538.5 V532.5 H544.8 V538.1 H515 Z" fill="#fff" stroke="#111" stroke-width="0.9"/>
<rect x="517.4" y="514.3" width="18.2" height="18" fill="#fff" stroke="#111" stroke-width="0.9"/>
<path d="M515,556.3 H544.8 V561.6999999999999 H538.5 V580.3 H544.8 V585.9 H515 Z" fill="#fff" stroke="#111" stroke-width="0.9"/>
<rect x="517.4" y="562.0999999999999" width="18.2" height="18" fill="#fff" stroke="#111" stroke-width="0.9"/>
<path d="M515,604.5 H544.8 V609.9 H538.5 V628.5 H544.8 V634.1 H515 Z" fill="#fff" stroke="#111" stroke-width="0.9"/>
<rect x="517.4" y="610.3" width="18.2" height="18" fill="#fff" stroke="#111" stroke-width="0.9"/>
<path d="M515,651.8 H544.8 V657.1999999999999 H538.5 V675.8 H544.8 V681.4 H515 Z" fill="#fff" stroke="#111" stroke-width="0.9"/>
<rect x="517.4" y="657.5999999999999" width="18.2" height="18" fill="#fff" stroke="#111" stroke-width="0.9"/>
<path d="M466,550.3 H480.5 V566 H491.3 V574.3 H466 Z" fill="#fff" stroke="#000" stroke-width="0.9"/>
<path d="M466,646.3 H480.5 V660 H491.3 V670.3 H466 Z" fill="#fff" stroke="#000" stroke-width="0.9"/>
<path d="M474.6,562.5 L466.6,583.5 M476.9,562.5 L470.2,583.5 M467.4,637.7 L474.4,660.3 M470.9,637.7 L476.9,659.5" stroke="#000" stroke-width="1.1" fill="none"/>
<circle cx="475.6" cy="561.3" r="1.9" fill="#fff" stroke="#000" stroke-width="0.8"/>
<circle cx="475.3" cy="662" r="2.4" fill="#fff" stroke="#000" stroke-width="0.9"/>
<rect x="457.2" y="583.70" width="24" height="4.91" rx="1.6" fill="#fff" stroke="#000" stroke-width="0.9"/>
<rect x="457.2" y="588.61" width="24" height="4.91" rx="1.6" fill="#fff" stroke="#000" stroke-width="0.9"/>
<rect x="457.2" y="593.52" width="24" height="4.91" rx="1.6" fill="#fff" stroke="#000" stroke-width="0.9"/>
<rect x="457.2" y="598.43" width="24" height="4.91" rx="1.6" fill="#fff" stroke="#000" stroke-width="0.9"/>
<rect x="457.2" y="603.34" width="24" height="4.91" rx="1.6" fill="#fff" stroke="#000" stroke-width="0.9"/>
<rect x="457.2" y="608.25" width="24" height="4.91" rx="1.6" fill="#fff" stroke="#000" stroke-width="0.9"/>
<rect x="457.2" y="613.16" width="24" height="4.91" rx="1.6" fill="#fff" stroke="#000" stroke-width="0.9"/>
<rect x="457.2" y="618.07" width="24" height="4.91" rx="1.6" fill="#fff" stroke="#000" stroke-width="0.9"/>
<rect x="457.2" y="622.98" width="24" height="4.91" rx="1.6" fill="#fff" stroke="#000" stroke-width="0.9"/>
<rect x="457.2" y="627.89" width="24" height="4.91" rx="1.6" fill="#fff" stroke="#000" stroke-width="0.9"/>
<rect x="457.2" y="632.80" width="24" height="4.91" rx="1.6" fill="#fff" stroke="#000" stroke-width="0.9"/>
</g>
<g fill="none" stroke="#c2c2c2" stroke-width="6" stroke-linecap="butt">
<path d="M470,505.3 H492"/><path d="M466,553.5 H492"/><path d="M462,601.3 H490"/>
<path d="M532,523.5 H548"/><path d="M530,667 H548"/>
</g>
<path d="M528,619.7 H548" stroke="#86828c" stroke-width="6" fill="none"/>
<path d="M528,523.5 H518 Q511,523.5 511,531 V637 Q511,646 503,647.5 L493,649" fill="none" stroke="#000" stroke-width="4.6" stroke-linejoin="round"/>
<g><circle cx="496" cy="505.6" r="6.9" fill="#2c1306"/><circle cx="496" cy="505.6" r="4.6" fill="url(#gSolder)"/></g>
<g><circle cx="496" cy="553.5" r="6.9" fill="#2c1306"/><circle cx="496" cy="553.5" r="4.6" fill="url(#gSolder)"/></g>
<g><circle cx="493" cy="601.3" r="6.9" fill="#2c1306"/><circle cx="493" cy="601.3" r="4.6" fill="url(#gSolder)"/></g>
<g><circle cx="493" cy="649" r="6.9" fill="#2c1306"/><circle cx="493" cy="649" r="4.6" fill="url(#gSolder)"/></g>
<g><circle cx="528.2" cy="523.6" r="6.9" fill="#2c1306"/><circle cx="528.2" cy="523.6" r="4.6" fill="url(#gSolder)"/></g>
<g><circle cx="525.5" cy="619.6" r="6.9" fill="#2c1306"/><circle cx="525.5" cy="619.6" r="4.6" fill="url(#gSolder)"/></g>
<g><circle cx="525.5" cy="666.8" r="6.9" fill="#2c1306"/><circle cx="525.5" cy="666.8" r="4.6" fill="url(#gSolder)"/></g>
<text x="494" y="714.5" font-family='"Liberation Sans", sans-serif' font-size="11.5" font-weight="bold" fill="#000" text-anchor="middle" textLength="37" lengthAdjust="spacingAndGlyphs">5-WAY</text>
<text x="494" y="728" font-family='"Liberation Sans", sans-serif' font-size="11.5" font-weight="bold" fill="#000" text-anchor="middle" textLength="77" lengthAdjust="spacingAndGlyphs">LEVER SWITCH</text>
<g id="jack">
<rect x="692.5" y="730" width="33" height="22" fill="#fff"/>
<rect x="692.5" y="730" width="33" height="5.7" fill="#000"/>
<rect x="692.5" y="738.2" width="33" height="5.7" fill="#000"/>
<rect x="692.5" y="746.2" width="33" height="5.8" fill="#000"/>
<rect x="724" y="731.2" width="1.8" height="1.1" fill="#fff"/>
<rect x="724" y="733.8" width="1.8" height="1.1" fill="#fff"/>
<rect x="724" y="736.4" width="1.8" height="1.1" fill="#fff"/>
<rect x="724" y="739.0" width="1.8" height="1.1" fill="#fff"/>
<rect x="724" y="741.6" width="1.8" height="1.1" fill="#fff"/>
<rect x="724" y="744.2" width="1.8" height="1.1" fill="#fff"/>
<rect x="724" y="746.8" width="1.8" height="1.1" fill="#fff"/>
<rect x="724" y="749.4" width="1.8" height="1.1" fill="#fff"/>
<rect x="683.3" y="752" width="52.2" height="4.6" fill="#9c9c9c" stroke="#333" stroke-width="0.8"/>
<rect x="700" y="752.8" width="17" height="2.4" fill="#e6e6e6"/><rect x="721" y="752.8" width="12" height="2.4" fill="#d0d0d0"/>
<line x1="699.5" y1="752" x2="699.5" y2="756.6" stroke="#333" stroke-width="0.8"/><line x1="719.5" y1="752" x2="719.5" y2="756.6" stroke="#333" stroke-width="0.8"/>
<rect x="680.8" y="756.6" width="56.6" height="2.8" fill="#7a7a7a"/>
<rect x="679" y="759.4" width="60" height="2.6" fill="url(#pDotsL)"/>
<rect x="677" y="762" width="63.5" height="3.6" fill="#fff" stroke="#111" stroke-width="0.9"/>
<rect x="702.1" y="765.6" width="18.3" height="39.4" fill="url(#gSleeve)" stroke="#333" stroke-width="0.8"/>
<rect x="699.2" y="805" width="19.9" height="15.4" fill="url(#gSleeve)" stroke="#222" stroke-width="0.9"/>
<rect x="700" y="811.5" width="18.3" height="1.6" fill="#e8e8e8"/>
<path d="M685.8,765.8 H696 L684.5,783 L676.5,778 Z" fill="#d6d6d6" stroke="#555" stroke-width="0.8"/>
<path d="M725.4,765.8 H739.2 V790 L734,800 H729.5 L725.4,792 Z" fill="#dcdcdc" stroke="#555" stroke-width="0.8"/>
<path d="M681,777.2 H610.5 Q602,777.2 602,785.5" fill="none" stroke="#000" stroke-width="4.4"/>
<line x1="585.2" y1="785.6" x2="617.8" y2="785.6" stroke="#000" stroke-width="2.5"/><line x1="588.8" y1="789.4" x2="614.2" y2="789.4" stroke="#000" stroke-width="2.5"/><line x1="592.4" y1="793.2" x2="610.6" y2="793.2" stroke="#000" stroke-width="2.5"/><line x1="595.9" y1="797.0" x2="607.1" y2="797.0" stroke="#000" stroke-width="2.5"/><line x1="599.5" y1="800.8" x2="603.5" y2="800.8" stroke="#000" stroke-width="2.5"/>
<path d="M744.8,768 V782 Q744.8,789.5 739,791.5 L733,793.5" fill="none" stroke="#7e7e7e" stroke-width="6.5" stroke-linecap="round"/>
<g><circle cx="681.4" cy="778" r="7" fill="#2c1306"/><circle cx="681.4" cy="778" r="4.7" fill="url(#gSolder)"/></g>
<g><circle cx="731.8" cy="793" r="7" fill="#2c1306"/><circle cx="731.8" cy="793" r="4.7" fill="url(#gSolder)"/></g>
<text x="710.5" y="832" font-family='"Liberation Sans", sans-serif' font-size="11.5" font-weight="bold" fill="#000" text-anchor="middle" textLength="33" lengthAdjust="spacingAndGlyphs">MONO</text>
<text x="710.5" y="846" font-family='"Liberation Sans", sans-serif' font-size="11.5" font-weight="bold" fill="#000" text-anchor="middle" textLength="77" lengthAdjust="spacingAndGlyphs">OUTPUT JACK</text>
</g>
<g id="handdrawn" fill="none" stroke="#000" stroke-linecap="round" stroke-linejoin="round" filter="url(#soft)">
<path d="M602,522.5 Q611,531 624,541 M624,526.5 Q612,535 603,546" stroke-width="6.9"/>
<path d="M610.4,706 Q610,711.5 614,711.5 L648,711.2" stroke-width="7.5"/>
<path d="M650,698.5 Q648.6,712 650,726.5" stroke-width="6.3"/><path d="M663.6,698 Q662.2,712 663.6,727" stroke-width="6.3"/>
<path d="M665,711 Q682,713.5 700,714.5 Q720,713.5 735,710 Q750,708.5 764.5,711.5 Q764,722 766,733 Q768.5,746 768,757" stroke-width="8.5"/>
<path d="M758,760.5 Q770,759.5 781,760.5" stroke-width="8.1"/>
<path d="M744,667.5 Q733.5,666 732.8,679 Q732,692.5 742,693.2 Q752,693.5 752,680 Q752.5,668 741,668.5" stroke-width="9.3"/>
<path d="M760,669.8 Q770,668 779,669.5 Q780.5,678 774,685.5 Q769,690.5 766,694.5 Q776,696.5 786,698.5" stroke-width="8.7"/>
<path d="M790.5,676 Q794,667 803,666.5 Q812,667.5 814.5,677 Q815.5,685 808,692 Q800.5,699 801,705 Q804,711.5 810,709 Q813.5,706.5 813,703" stroke-width="8.7"/>
</g>
<g id="title">
<text x="15.3" y="811.5" font-family='"Liberation Sans", sans-serif' font-size="24" font-weight="bold" fill="#1d1d9a" text-anchor="start" textLength="393" lengthAdjust="spacingAndGlyphs" stroke="#1d1d9a" stroke-width="0.5">3 SINGLE COILS-1 VOLUME-2 TONES</text>
<text x="100" y="839.5" font-family='"Liberation Sans", sans-serif' font-size="24" font-weight="bold" fill="#1d1d9a" text-anchor="start" textLength="225.5" lengthAdjust="spacingAndGlyphs" stroke="#1d1d9a" stroke-width="0.5">1 SELECTOR SWITCH</text>
<text x="90" y="856.3" font-family='"Liberation Sans", sans-serif' font-size="10" font-weight="bold" fill="#14147a" text-anchor="start" textLength="250.5" lengthAdjust="spacingAndGlyphs">COPYRIGHT 2001 SEYMOUR DUNCAN / BASSLINES</text>
</g>
</svg>
</body></html>
